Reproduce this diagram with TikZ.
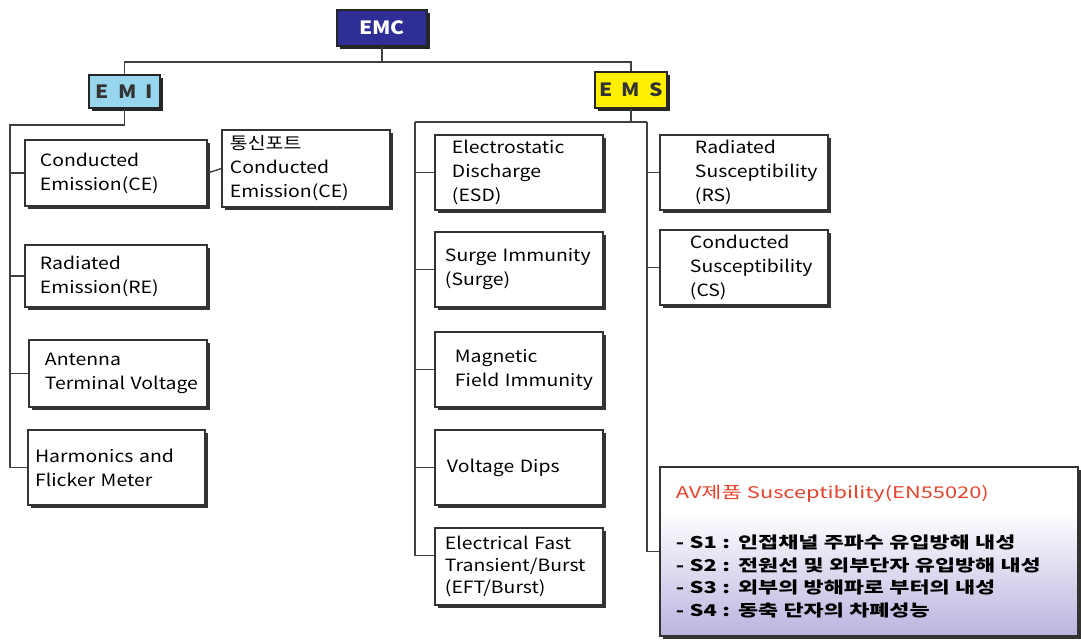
\documentclass[tikz,border=0pt]{standalone}
\usepackage{fontspec}
\setmainfont{Noto Sans CJK KR}[FakeStretch=1.15]
\newfontfamily\krwide{Noto Sans CJK KR}[FakeStretch=1.35]
\usetikzlibrary{shadows}
\definecolor{emcblue}{HTML}{2E2E96}
\definecolor{emiblue}{HTML}{98D6EE}
\definecolor{emsyellow}{HTML}{FFF000}
\definecolor{avlav}{HTML}{A39BD4}
\definecolor{avred}{HTML}{E5432B}
\def\nohyph{\lefthyphenmin=64\relax}
\pgfdeclareverticalshading{avshade}{100bp}{color(0bp)=(avlav); color(25bp)=(avlav!75!white); color(62bp)=(white); color(100bp)=(white)}
\tikzset{
	box/.style={draw=black!80, line width=0.8pt, fill=white, align=left, inner sep=0pt,
		drop shadow={shadow xshift=2pt, shadow yshift=-2pt, fill=black!80, opacity=1},
		font=\fontsize{12}{17}\selectfont\nohyph},
	boxsize/.style 2 args={minimum width=#1*0.025cm, minimum height=#2*0.025cm},
	head/.style={draw=black!85, line width=0.8pt, inner sep=0pt,
		drop shadow={shadow xshift=2pt, shadow yshift=-2pt, fill=black!85, opacity=1},
		font=\bfseries\fontsize{13}{15}\selectfont},
	wire/.style={line width=1pt, draw=black!75}
}

\begin{document}
\begin{tikzpicture}[x=0.025cm, y=-0.025cm]
			%%%%% START %%%%%
			\useasboundingbox (0, 0) rectangle (1081, 640);
			
			\node[head, fill=emcblue, text=white, boxsize={90}{36}] (emc) at (382, 28) {EMC};
			\node[head, fill=emiblue, text=black!80, boxsize={71}{33}] (emi) at (124.5, 91.5) {E\,\,\,M\,\,\,I};
			\node[head, fill=emsyellow, text=black!80, boxsize={72}{36}] (ems) at (631, 90) {E\,\,\,M\,\,\,S};
			
			% EMI side
			\node[box, boxsize={182}{66}, text width=3.8cm] (ce) at (116, 173) {Conducted\\Emission(CE)};
			\node[box, boxsize={168}{77}, text width=3.8cm] (comm) at (306, 168.5) {통신포트\\Conducted\\Emission(CE)};
			\node[box, boxsize={182}{62}, text width=3.8cm] (re) at (116, 276) {Radiated\\Emission(RE)};
			\node[box, boxsize={178}{67}, text width=3.65cm] (atv) at (118, 373.5) {Antenna\\Terminal~Voltage};
			\node[box, boxsize={177}{75}, text width=4.07cm] (hfm) at (116.5, 467.5) {Harmonics~and\\Flicker~Meter};
			
			% EMS side
			\node[box, boxsize={168}{75}, text width=3.35cm] (esd) at (519, 172.5) {Electrostatic\\Discharge\\(ESD)};
			\node[box, boxsize={168}{75}, text width=3.7cm] (surge) at (519, 269.5) {Surge~Immunity\\(Surge)};
			\node[box, boxsize={168}{75}, text width=3.2cm] (mag) at (519, 369.5) {Magnetic\\Field~Immunity};
			\node[box, boxsize={168}{75}, text width=3.6cm] (vd) at (519, 467.5) {Voltage~Dips};
			\node[box, boxsize={168}{77}, text width=3.7cm, font=\fontsize{12}{15.5}\selectfont\nohyph] (eft) at (519, 566.5) {Electrical~Fast\\Transient/Burst\\(EFT/Burst)};
			\node[box, boxsize={168}{75}, text width=2.45cm] (rs) at (744, 172.5) {Radiated\\Susceptibility\\(RS)};
			\node[box, boxsize={168}{75}, text width=2.7cm] (cs) at (744, 267.5) {Conducted\\Susceptibility\\(CS)};
			
			\node[box, shading=avshade, boxsize={418}{169}, text width=9.65cm, font=\krwide\fontsize{11.5}{16}\selectfont] (av) at (869, 551.5)
				{{\color{avred}AV제품 Susceptibility(EN55020)}\\[20pt]
				\textbf{- S1 : 인접채널 주파수 유입방해 내성}\\
				\textbf{- S2 : 전원선 및 외부단자 유입방해 내성}\\
				\textbf{- S3 : 외부의 방해파로 부터의 내성}\\
				\textbf{- S4 : 동축 단자의 차폐성능}};
			
			% buses
			\coordinate (topbus) at (382, 62);
			\coordinate (emibus) at (10, 125);
			\coordinate (emsl) at (415, 122);
			\coordinate (emsr) at (647, 122);
			
			\draw[wire] (emc.south) -- (topbus);
			\draw[wire] (emi.north) |- (topbus) -| (ems.north);
			
			\draw[wire] (emi.south) |- (emibus) |- (hfm.west);
			\draw[wire] (emibus |- ce.west) -- (ce.west);
			\draw[wire] (emibus |- re.west) -- (re.west);
			\draw[wire] (emibus |- atv.west) -- (atv.west);
			\draw[wire] (ce.east) -- (comm.west);
			
			\draw[wire] (ems.south) -- (ems.south |- emsl);
			\draw[wire] (emsl) -- (emsr);
			\draw[wire] (emsl) |- ([yshift=8pt]eft.west);
			\draw[wire] (emsl |- esd.west) -- (esd.west);
			\draw[wire] (emsl |- surge.west) -- (surge.west);
			\draw[wire] (emsl |- mag.west) -- (mag.west);
			\draw[wire] (emsl |- vd.west) -- (vd.west);
			
			\draw[wire] (emsr) |- (av.west);
			\draw[wire] (emsr |- rs.west) -- (rs.west);
			\draw[wire] (emsr |- cs.west) -- (cs.west);
			
			%%%%% END %%%%%
\end{tikzpicture}
\end{document}
